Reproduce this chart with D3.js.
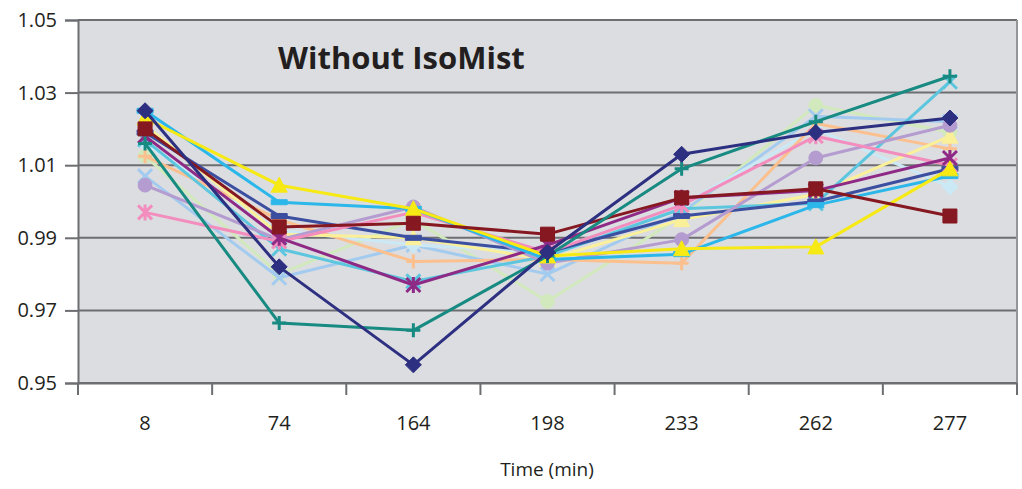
<!DOCTYPE html>
<html>
<head>
<meta charset="utf-8">
<script src="https://cdn.jsdelivr.net/npm/d3@7"></script>
<style>
	body { margin: 0; background: #ffffff; }
	text { font-family: "Open Sans", "Liberation Sans", sans-serif; fill: #231f20; }
</style>
</head>
<body>
<div id="chart"></div>
<script>
// x categories (sampling times, minutes)
var times = ["8", "74", "164", "198", "233", "262", "277"];

// y axis tick values
var yTicks = [0.95, 0.97, 0.99, 1.01, 1.03, 1.05];

// one array of readings per sample
var navyVals        = [1.025, 0.982, 0.955, 0.986, 1.013, 1.019, 1.023];
var tealVals        = [1.016, 0.9665, 0.9645, 0.985, 1.009, 1.022, 1.0345];
var yellowVals      = [1.023, 1.0045, 0.998, 0.985, 0.987, 0.9875, 1.009];
var skyVals         = [1.025, 0.9998, 0.998, 0.984, 0.9855, 0.999, 1.007];
var darkRedVals     = [1.020, 0.993, 0.994, 0.991, 1.001, 1.0035, 0.996];
var purpleVals      = [1.018, 0.990, 0.977, 0.988, 1.001, 1.003, 1.012];
var pinkVals        = [0.997, 0.989, 0.997, 0.986, 0.999, 1.018, 1.010];
var lavenderVals    = [1.0045, 0.9895, 0.9985, 0.983, 0.9895, 1.012, 1.021];
var lightBlueVals   = [1.007, 0.979, 0.988, 0.980, 0.997, 1.0235, 1.022];
var cyanVals        = [1.017, 0.987, 0.978, 0.985, 0.998, 0.9995, 1.033];
var lightGreenVals  = [1.0125, 0.980, 0.995, 0.9725, 0.996, 1.0265, 1.019];
var peachVals       = [1.0125, 0.995, 0.9835, 0.984, 0.983, 1.0215, 1.0145];
var lightCyanVals   = [1.016, 0.992, 0.988, 0.986, 0.999, 1.020, 1.004];
var lightYellowVals = [1.021, 0.991, 0.990, 0.984, 0.995, 1.002, 1.018];
var darkBlueVals    = [1.019, 0.996, 0.990, 0.986, 0.996, 1.000, 1.009];

// series table built from the arrays above (drawn in this order)
var series = [
	{ values: lightGreenVals,  color: "#d2e9bd", marker: "circle" },
	{ values: lightBlueVals,   color: "#a3cbef", marker: "x" },
	{ values: lightCyanVals,   color: "#cbe9f5", marker: "diamond" },
	{ values: peachVals,       color: "#fbc08e", marker: "plus" },
	{ values: lightYellowVals, color: "#fbf09a", marker: "triangle" },
	{ values: cyanVals,        color: "#5cc6df", marker: "x" },
	{ values: darkBlueVals,    color: "#3b4ea0", marker: "dash" },
	{ values: lavenderVals,    color: "#b49bd0", marker: "circle" },
	{ values: pinkVals,        color: "#f28dbe", marker: "star" },
	{ values: purpleVals,      color: "#8e2a86", marker: "star" },
	{ values: skyVals,         color: "#2cb7ea", marker: "dash" },
	{ values: yellowVals,      color: "#f6e914", marker: "triangle" },
	{ values: darkRedVals,     color: "#851820", marker: "square" },
	{ values: tealVals,        color: "#178a82", marker: "plus" },
	{ values: navyVals,        color: "#2d2f80", marker: "diamond" }
];

/* **************************************************************************
 * layout
 ****************************************************************************/
var width = 1022, height = 489;
var plot = { left: 78, right: 1017, top: 20, bottom: 383 };

var svg = d3.select("#chart").append("svg")
	.attr("width", width)
	.attr("height", height);

var xScale = d3.scaleBand()
	.domain(times)
	.range([plot.left, plot.right]);

var yScale = d3.scaleLinear()
	.domain([0.95, 1.05])
	.range([plot.bottom, plot.top]);

// plot area background
svg.append("rect")
	.attr("x", plot.left)
	.attr("y", plot.top)
	.attr("width", plot.right - plot.left)
	.attr("height", plot.bottom - plot.top)
	.attr("fill", "#dcdde0");

// horizontal gridlines
svg.append("g")
	.selectAll("line")
	.data(yTicks)
	.join("line")
	.attr("x1", plot.left)
	.attr("x2", plot.right)
	.attr("y1", function (d) { return yScale(d); })
	.attr("y2", function (d) { return yScale(d); })
	.attr("stroke", "#6d6e71")
	.attr("stroke-width", 2);

// right border of the plot area
svg.append("line")
	.attr("x1", plot.right).attr("x2", plot.right)
	.attr("y1", plot.top).attr("y2", plot.bottom)
	.attr("stroke", "#939598")
	.attr("stroke-width", 2);

/* **************************************************************************
 * axes
 ****************************************************************************/
var yAxis = svg.append("g")
	.attr("transform", "translate(" + plot.left + ",0)")
	.call(d3.axisLeft(yScale)
		.tickValues(yTicks)
		.tickFormat(d3.format(".2f"))
		.tickSize(13)
		.tickPadding(8));

var xAxis = svg.append("g")
	.attr("transform", "translate(0," + plot.bottom + ")")
	.call(d3.axisBottom(xScale)
		.tickSize(0)
		.tickPadding(33));

// band boundary ticks on the category axis
xAxis.append("g")
	.selectAll("line")
	.data(times.map(function (t) { return xScale(t); }).concat([plot.right]))
	.join("line")
	.attr("x1", function (d) { return d; })
	.attr("x2", function (d) { return d; })
	.attr("y1", 0)
	.attr("y2", 12)
	.attr("stroke", "#6d6e71")
	.attr("stroke-width", 2);

[yAxis, xAxis].forEach(function (axis) {
	axis.select(".domain").attr("stroke", "#6d6e71").attr("stroke-width", 2);
	axis.selectAll(".tick line").attr("stroke", "#6d6e71").attr("stroke-width", 2);
	axis.selectAll(".tick text")
		.style("font-family", "'Open Sans', sans-serif")
		.style("font-size", "20px")
		.attr("fill", "#231f20");
});

svg.append("text")
	.attr("x", 547)
	.attr("y", 476)
	.attr("text-anchor", "middle")
	.style("font-size", "19px")
	.text("Time (min)");

svg.append("text")
	.attr("x", 278)
	.attr("y", 69)
	.style("font-size", "31px")
	.style("font-weight", "bold")
	.attr("fill", "#111")
	.text("Without IsoMist");

/* **************************************************************************
 * markerPath
 *
 * Return a path string, centred on 0,0, for the given marker type.
 ****************************************************************************/
function markerPath(type)
{
	var s = 7;
	switch (type)
	{
	case "diamond":  return "M0,-8L8,0L0,8L-8,0Z";
	case "square":   return "M-7,-7H7V7H-7Z";
	case "triangle": return "M0,-8L8,7H-8Z";
	case "circle":   return d3.symbol(d3.symbolCircle, 150)();
	case "dash":     return "M-8,-2.5H8V2.5H-8Z";
	case "plus":     return "M0,-" + s + "V" + s + "M-" + s + ",0H" + s;
	case "x":        return "M-7,-7L7,7M7,-7L-7,7";
	case "star":     return "M-7,-7L7,7M7,-7L-7,7M0,-8V8";
	}
	return "";
}

var line = d3.line()
	.x(function (d, i) { return xScale(times[i]) + xScale.bandwidth() / 2; })
	.y(function (d) { return yScale(d); });

var seriesGroups = svg.append("g")
	.selectAll("g")
	.data(series)
	.join("g");

seriesGroups.append("path")
	.attr("d", function (s) { return line(s.values); })
	.attr("fill", "none")
	.attr("stroke", function (s) { return s.color; })
	.attr("stroke-width", 3)
	.attr("stroke-linejoin", "round");

seriesGroups.each(function (s) {
	var stroked = ["plus", "x", "star"].indexOf(s.marker) >= 0;
	d3.select(this).selectAll("path.marker")
		.data(s.values)
		.join("path")
		.attr("class", "marker")
		.attr("transform", function (d, i) {
			return "translate(" + (xScale(times[i]) + xScale.bandwidth() / 2) + "," + yScale(d) + ")";
		})
		.attr("d", markerPath(s.marker))
		.attr("fill", stroked ? "none" : s.color)
		.attr("stroke", s.color)
		.attr("stroke-width", stroked ? 3 : 1);
});
</script>
</body>
</html>
